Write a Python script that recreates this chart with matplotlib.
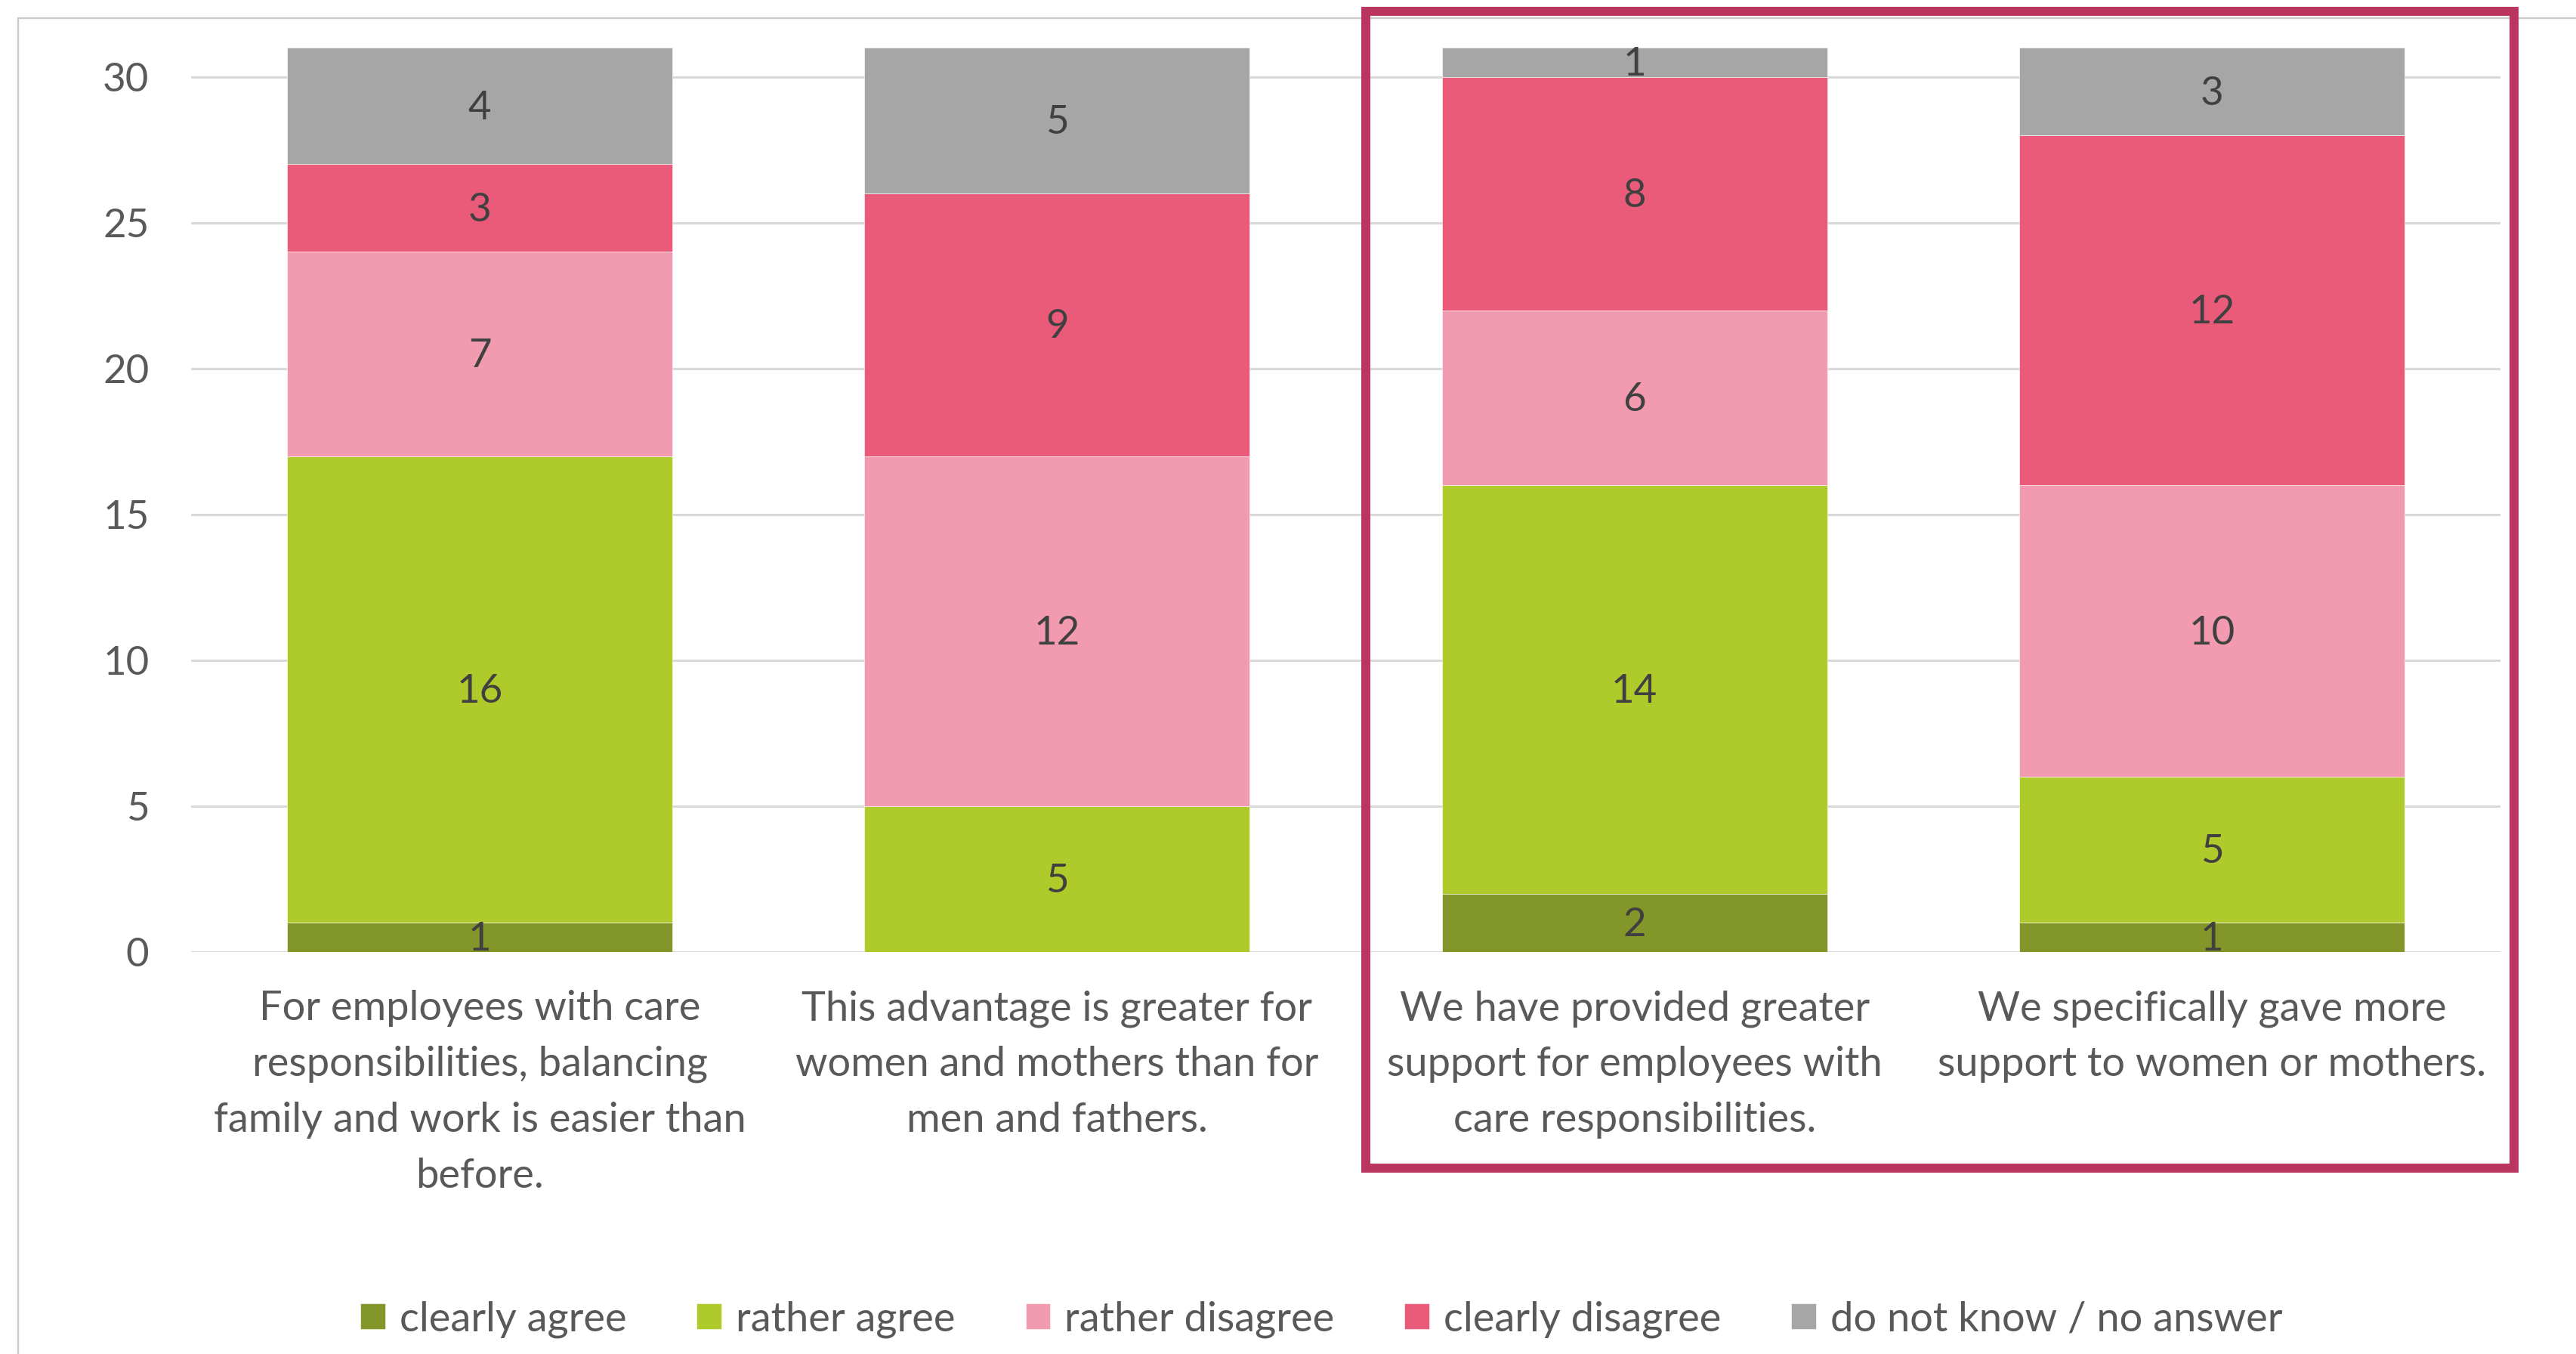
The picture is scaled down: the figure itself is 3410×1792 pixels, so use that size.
import matplotlib; matplotlib.use("Agg")
import matplotlib.pyplot as plt
from matplotlib.patches import Rectangle
import numpy as np

plt.rcParams.update({"font.family": ["Lato", "DejaVu Sans"]})
TXT = "#595959"; LAB = "#404040"; GRID = "#D9D9D9"; FRAME = "#BA365E"
FS = 39

categories = [
    "For employees with care\nresponsibilities, balancing\nfamily and work is easier than\nbefore.",
    "This advantage is greater for\nwomen and mothers than for\nmen and fathers.",
    "We have provided greater\nsupport for employees with\ncare responsibilities.",
    "We specifically gave more\nsupport to women or mothers.",
]
series = ["clearly agree", "rather agree", "rather disagree", "clearly disagree", "do not know / no answer"]
colors = ["#83962A", "#AECB2B", "#F29AAF", "#EA5B79", "#A6A6A6"]
clearly_agree = [1, 0, 2, 1]
rather_agree = [16, 5, 14, 5]
rather_disagree = [7, 12, 6, 10]
clearly_disagree = [3, 9, 8, 12]
no_answer = [4, 5, 1, 3]
yticks = [0, 5, 10, 15, 20, 25, 30]

W, H = 3410, 1792
fig = plt.figure(figsize=(W / 100, H / 100), dpi=100)
ax = fig.add_axes([253 / W, 1 - 1260 / H, (3310 - 253) / W, (1260 - 63) / H])

x = np.arange(len(categories))
bottom = np.zeros(len(categories))
for name, vals, c in zip(series, [clearly_agree, rather_agree, rather_disagree, clearly_disagree, no_answer], colors):
    vals = np.array(vals, dtype=float)
    ax.bar(x, vals, 0.667, bottom=bottom, color=c, label=name, zorder=3, edgecolor="white", linewidth=0.4)
    for xi, b, v in zip(x, bottom, vals):
        if v > 0:
            ax.text(xi, b + v / 2 - 0.08, f"{int(v)}", ha="center", va="center", fontsize=FS - 1, color=LAB, zorder=4)
    bottom += vals

ax.set_xlim(-0.5, 3.5); ax.set_ylim(0, 31)
ax.set_yticks(yticks)
ax.set_xticks(x); ax.set_xticklabels(categories, fontsize=FS, color=TXT, linespacing=1.62)
ax.tick_params(axis="y", length=0, pad=40, labelsize=FS - 1, labelcolor=TXT)
ax.tick_params(axis="x", length=0, pad=36)
ax.grid(True, axis="y", color=GRID, lw=2.2, zorder=0)
for sp in ax.spines.values(): sp.set_visible(False)

# outer chart border (cut off on the right and bottom)
fig.patches.append(Rectangle((24 / W, -0.1), 1.2, 1 - 24 / H + 0.1, transform=fig.transFigure,
                             fill=False, edgecolor="#C8C8C8", lw=1.6))
# highlight frame around the last two questions
fig.patches.append(Rectangle((1808 / W, 1 - 1546 / H), (3328 - 1808) / W, (1546 - 15) / H,
                             transform=fig.transFigure, fill=False, edgecolor=FRAME, lw=8.6, zorder=10))

fig.legend(loc="center", bbox_to_anchor=(0.513, 1 - 1746 / H), ncol=5, frameon=False,
           fontsize=FS, labelcolor=TXT, handlelength=0.6, handleheight=0.6,
           handletextpad=0.35, columnspacing=1.72)

fig.savefig("out.png", dpi=100, facecolor="white")
